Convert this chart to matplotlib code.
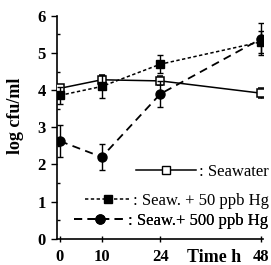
import matplotlib
matplotlib.use("Agg")
from matplotlib import pyplot as plt
from matplotlib.lines import Line2D

# tempo (h) e log cfu/ml
tempo = [0, 10, 24, 48]
seawater = [4.05, 4.28, 4.25, 3.92]
seawater_err = [0.10, 0.12, 0.12, 0.13]
hg50 = [3.86, 4.10, 4.70, 5.30]
hg50_err = [0.22, 0.30, 0.25, 0.30]
hg500 = [2.63, 2.20, 3.90, 5.38]
hg500_err = [0.44, 0.35, 0.34, 0.44]

rotulos = [": Seawater", ": Seaw. + 50 ppb Hg", ": Seaw.+ 500 ppb Hg"]

plt.rcParams['font.family'] = ['Liberation Serif', 'DejaVu Serif']

fig = plt.figure(figsize=(2.71, 2.65), dpi=100)
ax = fig.add_axes([0.210, 0.099, 0.762, 0.841])

estilo50 = (0, (2.2, 1.6))
estilo500 = (0, (4.5, 3))

ax.errorbar(tempo, seawater, yerr=seawater_err, color='black', lw=1.1,
            marker='s', ms=6, mfc='white', mec='black', mew=1.1,
            capsize=2.5, elinewidth=1, zorder=3)
ax.errorbar(tempo, hg50, yerr=hg50_err, color='black', lw=1.1, ls=estilo50,
            marker='s', ms=6, mfc='black', capsize=2.5, elinewidth=1, zorder=4)
ax.errorbar(tempo, hg500, yerr=hg500_err, color='black', lw=1.3, ls=estilo500,
            marker='o', ms=6.5, mfc='black', capsize=2.5, elinewidth=1, zorder=5)

ax.set_xlim(-0.7, 48.6)
ax.set_ylim(0, 6)
ax.set_xticks(tempo)
ax.set_yticks(range(7))
ax.set_yticks([i + 0.5 for i in range(6)], minor=True)
ax.tick_params(axis='y', which='major', direction='out', length=4, width=1, labelsize=12, pad=4)
ax.tick_params(axis='y', which='minor', direction='in', length=2.5, width=1)
ax.tick_params(axis='x', which='major', direction='inout', length=5, width=1, labelsize=12, pad=5)
for lbl in ax.get_xticklabels() + ax.get_yticklabels():
    lbl.set_fontweight('bold')
for s in ['top', 'right']:
    ax.spines[s].set_visible(False)
for s in ['left', 'bottom']:
    ax.spines[s].set_linewidth(1.2)

ax.set_ylabel("log cfu/ml", fontsize=13, fontweight='bold', va='center')
ax.yaxis.set_label_coords(-0.2, 0.55)
ax.set_xlabel("Time h", fontsize=13, fontweight='bold', va='center')
ax.xaxis.set_label_coords(0.76, -0.085)

# legendas separadas, alinhadas à direita
handles = [
    Line2D([], [], color='black', lw=1.1, marker='s', ms=6, mfc='white', mec='black'),
    Line2D([], [], color='black', lw=1.1, ls=estilo50, marker='s', ms=6, mfc='black'),
    Line2D([], [], color='black', lw=1.3, ls=estilo500, marker='o', ms=6.5, mfc='black'),
]
posicoes = [0.30, 0.169, 0.079]
comprimentos = [3.6, 2.7, 3.1]
for h, r, y, c in zip(handles, rotulos, posicoes, comprimentos):
    leg = ax.legend([h], [r], loc='center right', bbox_to_anchor=(1.025, y),
                    frameon=False, fontsize=12, handlelength=c, handletextpad=0.15,
                    borderpad=0, borderaxespad=0, numpoints=1)
    ax.add_artist(leg)

fig.savefig("out.png", dpi=100)
